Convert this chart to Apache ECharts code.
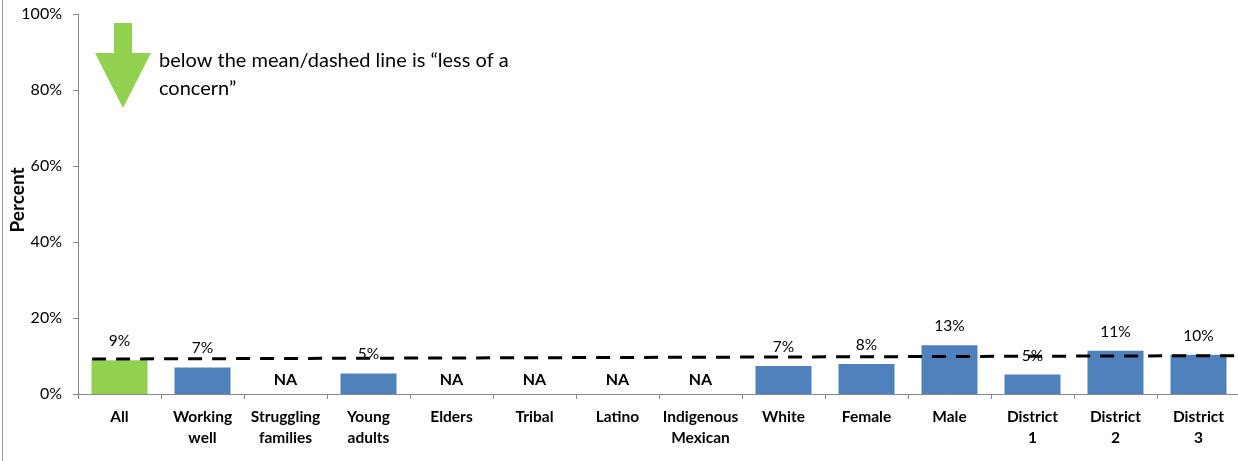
<!DOCTYPE html>
<html>
<head>
<meta charset="utf-8">
<title>Percent by group</title>
<script src="https://cdn.jsdelivr.net/npm/echarts@6/dist/echarts.min.js"></script>
<style>
  html, body { margin: 0; padding: 0; background: #fff; }
  #chart { width: 1238px; height: 461px; }
</style>
</head>
<body>
<div id="chart"></div>
<script>
// Groups along the category axis
const categories = ['All', 'Working\nwell', 'Struggling\nfamilies', 'Young\nadults', 'Elders', 'Tribal',
  'Latino', 'Indigenous\nMexican', 'White', 'Female', 'Male', 'District\n1', 'District\n2', 'District\n3'];
// Percent per group; null = no data (shown as NA)
const percentValues = [8.9, 7.0, null, 5.4, null, null, null, null, 7.4, 7.9, 12.8, 5.1, 11.4, 10.3];
// Mean reference line (position along the category span, percent)
const meanLineX = [0.17, 14];
const meanLineY = [9.2, 10.1];
// Y axis ticks
const yTicks = [0, 20, 40, 60, 80, 100];
const yTitle = 'Percent';
const noteText = 'below the mean/dashed line is \u201cless of a\nconcern\u201d';

const FONT = 'Lato, "Open Sans", sans-serif';
const GREEN = '#92D050';
const BLUE = '#4F81BD';
const AXIS = '#868686';

const barData = percentValues.map((v, i) => {
  if (v === null) {
    return {
      value: 0,
      itemStyle: { color: 'transparent' },
      label: { formatter: 'NA', fontWeight: 'bold', fontSize: 16, distance: 6 }
    };
  }
  return { value: v, itemStyle: { color: i === 0 ? GREEN : BLUE } };
});

const chart = echarts.init(document.getElementById('chart'), null, { renderer: 'canvas' });
chart.setOption({
  animation: false,
  textStyle: { fontFamily: FONT },
  grid: { left: 78, top: 14, width: 1162, height: 380, containLabel: false, outerBoundsMode: 'none' },
  xAxis: [{
    type: 'category',
    data: categories,
    boundaryGap: true,
    axisLine: { lineStyle: { color: AXIS, width: 1 } },
    axisTick: { show: true, length: 5, lineStyle: { color: AXIS }, alignWithLabel: false },
    axisLabel: {
      interval: 0, margin: 12.5, color: '#000', fontFamily: FONT,
      fontSize: 15.5, fontWeight: 'bold', lineHeight: 21
    },
    splitLine: { show: false }
  }, {
    type: 'value', min: 0, max: 14, show: false, position: 'bottom'
  }],
  yAxis: {
    type: 'value',
    min: yTicks[0], max: yTicks[yTicks.length - 1], interval: 20,
    axisLine: { show: true, lineStyle: { color: AXIS } },
    axisTick: { show: true, length: 5, inside: false, lineStyle: { color: AXIS } },
    axisLabel: { formatter: '{value}%', margin: 16, color: '#000', fontFamily: FONT, fontSize: 16 },
    splitLine: { show: false }
  },
  series: [{
    type: 'bar',
    xAxisIndex: 0,
    data: barData,
    barWidth: 56,
    label: {
      show: true, position: 'top', distance: 11, color: '#000',
      fontFamily: FONT, fontSize: 15.5,
      formatter: p => Math.round(p.value) + '%'
    },
    z: 2
  }, {
    type: 'line',
    xAxisIndex: 1,
    data: meanLineX.map((x, i) => [x, meanLineY[i]]),
    symbol: 'none',
    lineStyle: { color: '#000', width: 3, type: [14, 10] },
    z: 3
  }],
  graphic: [
    // chart frame edge
    { type: 'line', shape: { x1: 2.5, y1: 0, x2: 2.5, y2: 461 }, style: { stroke: '#9a9a9a', lineWidth: 1 } },
    // y axis title, rotated
    { type: 'text', x: 18, y: 200, rotation: Math.PI / 2,
      style: { text: yTitle, font: 'bold 19px ' + FONT, fill: '#000', align: 'center', verticalAlign: 'middle' } },
    // down arrow
    { type: 'polygon', shape: { points: [[114, 23], [132, 23], [132, 53], [151, 53], [123, 108], [95, 53], [114, 53]] },
      style: { fill: GREEN } },
    { type: 'text', left: 159, top: 47,
      style: { text: noteText, font: '20px ' + FONT, fill: '#000', lineHeight: 28 } }
  ]
});
</script>
</body>
</html>
